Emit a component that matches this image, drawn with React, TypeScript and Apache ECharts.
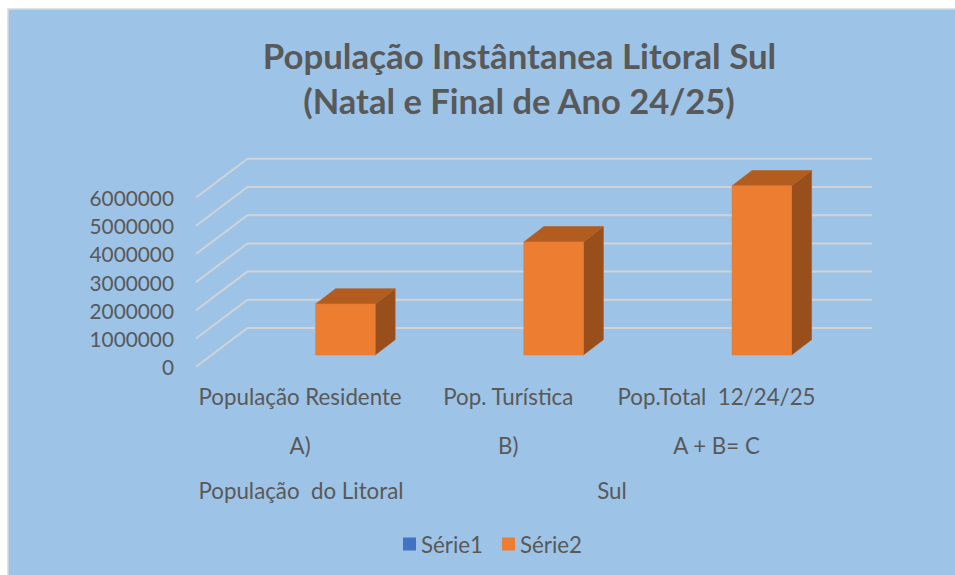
import React, { useEffect, useRef } from "react";
import * as echarts from "echarts";

const titleLines = ["População Instântanea Litoral Sul", "(Natal e Final de Ano 24/25)"];
const categories = [
  "População Residente\nA)",
  "Pop. Turística\nB)",
  "Pop.Total  12/24/25\nA + B= C",
];
const tierLabels = ["População  do Litoral", "Sul"];
const serie1Values: number[] = [];
const serie2Values = [1810000, 4010000, 6000000];
const gridValues = [0, 1000000, 2000000, 3000000, 4000000, 5000000, 6000000];

const FONT = "Lato";
const TEXT = "#595959";

const renderGridLine = (params: any, api: any) => {
  const p = api.coord([0, api.value(1)]);
  const x0 = params.coordSys.x;
  const x1 = x0 + params.coordSys.width;
  return {
    type: "polyline",
    silent: true,
    shape: { points: [[x0, p[1]], [x0 + 51.5, p[1] - 38.7], [x1 + 51.5, p[1] - 38.7]] },
    style: { stroke: "#CFD3D8", lineWidth: 2, fill: "none" },
  };
};

const renderBar = (params: any, api: any) => {
  const top = api.coord([api.value(0), api.value(1)]);
  const base = api.coord([api.value(0), 0]);
  const w = 59.5;
  const l = top[0] + 45.3 - w / 2;
  const r = l + w;
  const by = base[1] - 11.7;
  const ty = top[1] - 11.7;
  const dx = 20;
  const dy = -15.3;
  const edge = "#D9803F";
  return {
    type: "group",
    children: [
      {
        type: "polygon",
        shape: { points: [[r, ty], [r + dx, ty + dy], [r + dx, by + dy], [r, by]] },
        style: { fill: "#994F1B", stroke: "#A8591F", lineWidth: 0.6 },
      },
      {
        type: "polygon",
        shape: { points: [[l, ty], [l + dx, ty + dy], [r + dx, ty + dy], [r, ty]] },
        style: { fill: "#B25C1F", stroke: "#B9621F", lineWidth: 0.6 },
      },
      {
        type: "rect",
        shape: { x: l, y: ty, width: w, height: by - ty },
        style: { fill: "#ED7D31", stroke: edge, lineWidth: 0.6 },
      },
    ],
  };
};

export default function App() {
  const ref = useRef<HTMLDivElement>(null);
  useEffect(() => {
    document.body.style.margin = "0";
    const chart = echarts.init(ref.current!, undefined, { renderer: "svg" });
    chart.setOption({
      animation: false,
      backgroundColor: "#FFFFFF",
      color: ["#4472C4", "#ED7D31"],
      graphic: [
        {
          type: "rect",
          z: -10,
          silent: true,
          shape: { x: 8, y: 9, width: 960, height: 580 },
          style: { fill: "#9DC3E6", stroke: "#D9D9D9", lineWidth: 1.5 },
        },
        {
          type: "text",
          x: 519.5,
          y: 55,
          style: { text: titleLines[0], font: `bold 34.8px ${FONT}`, fill: TEXT, align: "center", verticalAlign: "middle" },
        },
        {
          type: "text",
          x: 519,
          y: 100,
          style: { text: titleLines[1], font: `bold 34.5px ${FONT}`, fill: TEXT, align: "center", verticalAlign: "middle" },
        },
        {
          type: "text",
          x: 301,
          y: 490,
          style: { text: tierLabels[0], font: `22.3px ${FONT}`, fill: TEXT, align: "center", verticalAlign: "middle" },
        },
        {
          type: "text",
          x: 612,
          y: 490,
          style: { text: tierLabels[1], font: `22.3px ${FONT}`, fill: TEXT, align: "center", verticalAlign: "middle" },
        },
      ],
      legend: {
        data: ["Série1", "Série2"],
        left: 398,
        top: 528,
        icon: "rect",
        itemWidth: 13,
        itemHeight: 13,
        itemGap: 19,
        textStyle: { color: TEXT, fontFamily: FONT, fontSize: 22.3 },
      },
      grid: { left: 196, top: 197.5, width: 624.6, height: 169.2, containLabel: false },
      xAxis: {
        type: "category",
        data: categories,
        axisLine: { show: false },
        axisTick: { show: false },
        axisLabel: {
          interval: 0,
          color: TEXT,
          fontFamily: FONT,
          fontSize: 22.3,
          lineHeight: 49,
          margin: 5,
        },
      },
      yAxis: {
        type: "value",
        min: 0,
        max: 6000000,
        interval: 1000000,
        axisLine: { show: false },
        axisTick: { show: false },
        splitLine: { show: false },
        axisLabel: {
          color: TEXT,
          fontFamily: FONT,
          fontSize: 20.8,
          margin: 22,
          formatter: (v: number) => String(v),
        },
      },
      series: [
        {
          name: "grid-floor",
          type: "custom",
          renderItem: renderGridLine,
          data: gridValues.map((v) => [0, v]),
          clip: false,
          silent: true,
          z: 1,
        },
        {
          name: "Série1",
          type: "custom",
          renderItem: renderBar,
          data: serie1Values.map((v, i) => [i, v]),
          itemStyle: { color: "#4472C4" },
          clip: false,
          z: 2,
        },
        {
          name: "Série2",
          type: "custom",
          renderItem: renderBar,
          data: serie2Values.map((v, i) => [i, v]),
          itemStyle: { color: "#ED7D31" },
          clip: false,
          z: 3,
        },
      ],
    });
    return () => chart.dispose();
  }, []);
  return <div ref={ref} style={{ width: 955, height: 575 }} />;
}
